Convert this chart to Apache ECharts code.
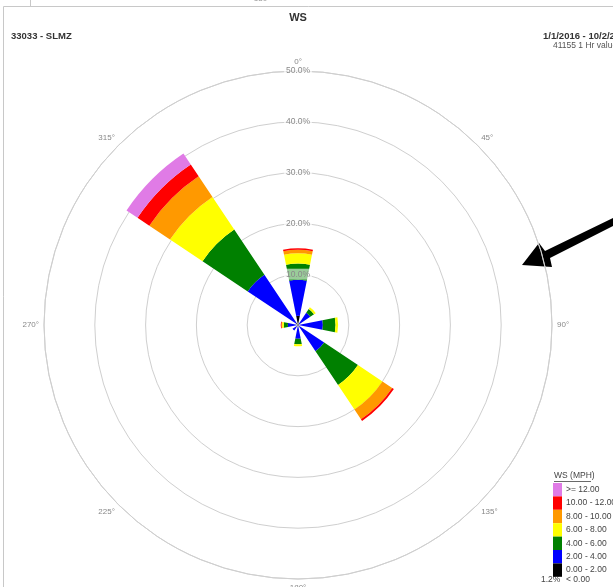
<!DOCTYPE html>
<html>
<head>
<meta charset="utf-8">
<script src="https://cdn.jsdelivr.net/npm/echarts@6/dist/echarts.min.js"></script>
<style>
  html, body { margin: 0; padding: 0; background: #fff; }
  #chart { width: 613px; height: 587px; }
</style>
</head>
<body>
<div id="chart"></div>
<script>
// Wind direction sectors (16 x 22.5 deg)
const directions = ['N', 'NNE', 'NE', 'ENE', 'E', 'ESE', 'SE', 'SSE',
                    'S', 'SSW', 'SW', 'WSW', 'W', 'WNW', 'NW', 'NNW'];

// Frequency (%) per speed class and direction
const ws0to2   = [1.8, 0, 0.3, 0, 0.3, 0, 0.4, 0, 0.3, 0, 0.4, 0, 0.3, 0, 0.5, 0];
const ws2to4   = [7.1, 0, 2.6, 0, 4.6, 0, 5.8, 0, 2.4, 0, 0.9, 0, 1.7, 0, 11.4, 0];
const ws4to6   = [3.2, 0, 0.9, 0, 2.5, 0, 8.0, 0, 1.1, 0, 0, 0, 0.8, 0, 10.7, 0];
const ws6to8   = [2.0, 0, 0.4, 0, 0.5, 0, 5.8, 0, 0.4, 0, 0, 0, 0.35, 0, 7.7, 0];
const ws8to10  = [0.7, 0, 0, 0, 0, 0, 2.3, 0, 0, 0, 0, 0, 0.1, 0, 4.9, 0];
const ws10to12 = [0.3, 0, 0, 0, 0, 0, 0.4, 0, 0, 0, 0, 0, 0.15, 0, 2.8, 0];
const ws12up   = [0, 0, 0, 0, 0, 0, 0, 0, 0, 0, 0, 0, 0, 0, 2.6, 0];

const classNames  = ['0.00 - 2.00', '2.00 - 4.00', '4.00 - 6.00', '6.00 - 8.00',
                     '8.00 - 10.00', '10.00 - 12.00', '>= 12.00'];
const classData   = [ws0to2, ws2to4, ws4to6, ws6to8, ws8to10, ws10to12, ws12up];
const classColors = ['#000000', '#0000ff', '#008000', '#ffff00', '#ff9900', '#ff0000', '#e07be6'];

const calmPct = 1.2;
const ringTicks = [10, 20, 30, 40, 50];
const angleTicks = [0, 45, 90, 135, 180, 225, 270, 315];

const CENTER = [298, 325];
const RADIUS = 254;
const FONT = '"Liberation Sans", Arial, sans-serif';

const chart = echarts.init(document.getElementById('chart'), null, { renderer: 'canvas' });

const series = classNames.map((name, i) => ({
  name: name,
  type: 'bar',
  coordinateSystem: 'polar',
  polarIndex: 0,
  stack: 'ws',
  data: classData[i],
  barCategoryGap: '0%',
  itemStyle: { color: classColors[i] },
  emphasis: { disabled: true },
  z: 2
}));

const option = {
  animation: false,
  backgroundColor: '#ffffff',
  textStyle: { fontFamily: FONT },
  polar: [
    { center: CENTER, radius: RADIUS },
    { center: CENTER, radius: RADIUS }
  ],
  angleAxis: [
    {
      polarIndex: 0,
      type: 'category',
      data: directions,
      startAngle: 90 + 11.25,
      clockwise: true,
      boundaryGap: true,
      axisLine: { show: true, lineStyle: { color: '#cfcfcf', width: 1 } },
      axisTick: { show: false },
      axisLabel: { show: false },
      splitLine: { show: false }
    },
    {
      polarIndex: 1,
      type: 'value',
      min: 0,
      max: 360,
      interval: 45,
      startAngle: 90,
      clockwise: true,
      axisLine: { show: false },
      axisTick: { show: false },
      splitLine: { show: false },
      axisLabel: {
        show: true,
        margin: 5,
        fontSize: 8,
        color: '#888',
        fontFamily: FONT,
        formatter: v => (angleTicks.indexOf(v) >= 0 ? v + '°' : '')
      }
    }
  ],
  radiusAxis: [
    {
      polarIndex: 0,
      type: 'value',
      min: 0,
      max: 50,
      interval: 10,
      axisLine: { show: false },
      axisTick: { show: false },
      axisLabel: { show: false },
      splitLine: { show: true, lineStyle: { color: '#cfcfcf', width: 1 } }
    },
    {
      polarIndex: 1,
      type: 'value',
      min: 0,
      max: 50,
      interval: 10,
      z: 10,
      axisLine: { show: false },
      axisTick: { show: false },
      splitLine: { show: false },
      axisLabel: {
        show: true,
        showMinLabel: false,
        margin: 0,
        align: 'center',
        verticalAlign: 'middle',
        fontSize: 8.5,
        color: '#8a8a8a',
        fontFamily: FONT,
        backgroundColor: 'rgba(255,255,255,0.6)',
        padding: [1, 2],
        formatter: v => (ringTicks.indexOf(v) >= 0 ? v.toFixed(1) + '%' : '')
      }
    }
  ],
  legend: {
    orient: 'vertical',
    left: 553,
    top: 483,
    padding: 0,
    itemGap: 0,
    itemWidth: 9,
    itemHeight: 13.4,
    icon: 'rect',
    selectedMode: false,
    data: classNames.slice().reverse(),
    textStyle: { fontSize: 8.5, color: '#444', fontFamily: FONT, padding: [0, 0, 0, -1] }
  },
  series: series,
  graphic: [
    // report frame
    { type: 'line', shape: { x1: 3.5, y1: 6.5, x2: 613, y2: 6.5 }, style: { stroke: '#c8c8c8', lineWidth: 1 } },
    { type: 'line', shape: { x1: 3.5, y1: 6.5, x2: 3.5, y2: 587 }, style: { stroke: '#c8c8c8', lineWidth: 1 } },
    { type: 'line', shape: { x1: 30.5, y1: 0, x2: 30.5, y2: 6 }, style: { stroke: '#c8c8c8', lineWidth: 1 } },
    { type: 'text', x: 262, y: -5, style: { text: '180°', fontSize: 8, fill: '#999', align: 'center', fontFamily: FONT } },
    // headings
    { type: 'text', x: 298, y: 12, style: { text: 'WS', fontSize: 11, fontWeight: 'bold', fill: '#333', align: 'center', fontFamily: FONT } },
    { type: 'text', x: 11, y: 31, style: { text: '33033 - SLMZ', fontSize: 9.5, fontWeight: 'bold', fill: '#333', fontFamily: FONT } },
    { type: 'text', x: 543, y: 31, style: { text: '1/1/2016 - 10/2/2020', fontSize: 9.5, fontWeight: 'bold', fill: '#333', fontFamily: FONT } },
    { type: 'text', x: 553, y: 41.5, style: { text: '41155 1 Hr values', fontSize: 8.5, fill: '#555', fontFamily: FONT } },
    // legend heading and calm row
    { type: 'text', x: 554, y: 471.5, style: { text: 'WS (MPH)', fontSize: 8.5, fill: '#444', fontFamily: FONT } },
    { type: 'line', shape: { x1: 554, y1: 481.5, x2: 591, y2: 481.5 }, style: { stroke: '#444', lineWidth: 0.8 } },
    { type: 'text', x: 541, y: 575, style: { text: calmPct.toFixed(1) + '%', fontSize: 8.5, fill: '#444', fontFamily: FONT } },
    { type: 'text', x: 566, y: 575, style: { text: '< 0.00', fontSize: 8.5, fill: '#444', fontFamily: FONT } },
    // annotation arrow
    {
      type: 'polygon',
      shape: { points: [[613, 218], [613, 226], [550, 258], [552, 267], [522, 265], [539, 243], [545, 251]] },
      style: { fill: '#000' }
    }
  ]
};

chart.setOption(option);
</script>
</body>
</html>
